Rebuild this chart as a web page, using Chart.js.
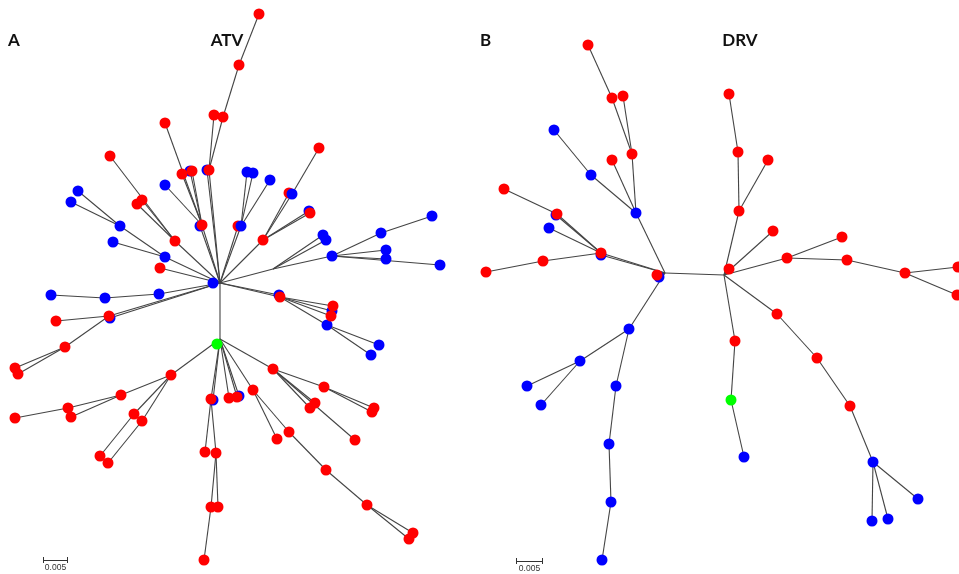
<!DOCTYPE html>
<html>
<head>
<meta charset="utf-8">
<script src="https://cdn.jsdelivr.net/npm/chart.js@4.4.0/dist/chart.umd.min.js"></script>
<style>
body{margin:0;background:#fff;}
#wrap{width:959px;height:574px;}
</style>
</head>
<body>
<div id="wrap"><canvas id="arvore" width="959" height="574"></canvas></div>
<script>
// Arvore A (ATV): posicao de cada no no layout, tipo e no pai
// tipo: 'r' vermelho, 'b' azul (por baixo), 'B' azul (por cima), 'g' verde, '' no interno
var atvX = [220,213,202,200,165,182,192,190,165,209,207,214,223,239,259,241,238,247,253,270,
            263,292,289,319,310,309,273,323,326,332,381,432,386,386,440,280,279,333,332,331,
            327,379,371,159,105,51,109,110,56,65,15,18,175,110,142,137,165,120,78,71,
            113,160,220,217,171,121,68,15,71,134,100,142,108,211,213,205,216,218,211,204,
            229,237,239,253,277,289,326,367,413,409,273,324,374,372,315,310,355]
var atvY = [283,283,225,226,123,174,171,171,185,170,170,115,117,65,14,226,226,172,173,180,
            240,194,193,148,213,211,269,235,240,256,233,216,250,259,265,297,295,306,311,316,
            325,345,355,294,298,295,316,318,321,347,368,374,241,156,200,204,257,226,191,202,
            242,268,339,344,375,395,408,418,417,414,456,421,463,399,400,452,453,507,507,560,
            398,397,396,390,439,432,470,505,533,539,369,387,408,412,403,408,440]
var atvTipo = ['','B','r','b','r','r','r','b','b','r','b','r','r','r','r','B','r','b','b','b',
               'r','B','r','r','r','b','','b','b','b','b','b','b','b','b','r','b','r','b','r',
               'b','b','b','b','b','b','r','b','r','r','r','r','r','r','r','r','b','b','b','b',
               'b','r','','g','r','r','r','r','r','r','r','r','r','r','b','r','r','r','r','r',
               'r','r','b','r','r','r','r','r','r','r','r','r','r','r','r','r','r']
var atvPai = [-1,0,0,0,2,2,2,2,2,0,0,9,9,12,13,0,0,15,15,15,
              0,20,20,21,20,20,0,26,26,26,29,30,29,29,29,0,0,35,35,35,
              35,40,40,0,43,44,0,0,46,46,49,49,0,52,52,52,0,56,57,57,
              56,0,0,62,62,64,65,66,65,64,69,64,71,62,62,73,73,76,76,78,
              62,62,62,62,83,83,85,86,87,87,62,90,91,91,90,90,90]

// Arvore B (DRV)
var drvX = [665,724,657,659,636,632,612,588,623,612,591,554,601,601,557,556,504,549,543,486,
            629,580,527,541,616,609,611,602,729,739,738,729,768,773,787,842,847,905,958,957,
            735,731,744,777,817,850,873,872,888,918]
var drvY = [273,275,275,277,213,154,98,45,96,160,175,130,253,255,214,215,189,228,261,272,
            329,361,386,405,386,444,502,560,269,211,152,94,160,231,258,237,260,273,267,295,
            341,400,457,314,358,406,462,521,519,499]
var drvTipo = ['','','r','b','b','r','r','r','r','r','b','b','r','b','r','b','r','b','r','r',
               'b','b','b','b','b','b','b','b','r','r','r','r','r','r','r','r','r','r','r','r',
               'r','g','b','r','r','r','b','b','b','b']
var drvPai = [-1,0,0,0,0,4,5,6,5,4,4,10,0,0,12,12,14,12,12,18,
              0,20,21,21,20,24,25,26,1,1,29,30,29,1,1,34,34,36,37,37,
              1,40,41,1,43,44,45,46,46,46]

var paineis = ['A','B']
var nomes = ['ATV','DRV']
var escala = '0.005'

var cores = {r:'#ff0000', b:'#0000ff', B:'#0000ff', g:'#00ff00'}
var ordem = {B:0, g:0, r:1, b:2}

var datasets = []
var pontos = {r:[], b:[], B:[], g:[]}

function montaArvore(xs, ys, tipos, pais) {
    for (var i = 0; i < xs.length; i++) {
        if (pais[i] >= 0) {
            datasets.push({
                data: [{x: xs[pais[i]], y: ys[pais[i]]}, {x: xs[i], y: ys[i]}],
                showLine: true,
                borderColor: '#444444',
                borderWidth: 1.1,
                pointRadius: 0,
                order: 3
            })
        }
        if (tipos[i]) pontos[tipos[i]].push({x: xs[i], y: ys[i]})
    }
}
montaArvore(atvX, atvY, atvTipo, atvPai)
montaArvore(drvX, drvY, drvTipo, drvPai)

for (var t in pontos) {
    datasets.push({
        data: pontos[t],
        showLine: false,
        pointRadius: 5.5,
        pointBackgroundColor: cores[t],
        pointBorderWidth: 0,
        order: ordem[t]
    })
}

// textos e barras de escala
var textos = {
    id: 'textos',
    afterDatasetsDraw: function(chart) {
        var c = chart.ctx
        var sx = chart.scales.x, sy = chart.scales.y
        c.save()
        c.fillStyle = '#111'
        c.font = 'bold 17px Lato'
        c.textBaseline = 'alphabetic'
        c.textAlign = 'left'
        c.fillText(paineis[0], sx.getPixelForValue(8), sy.getPixelForValue(46))
        c.fillText(paineis[1], sx.getPixelForValue(480), sy.getPixelForValue(46))
        c.textAlign = 'center'
        c.fillText(nomes[0], sx.getPixelForValue(227), sy.getPixelForValue(46))
        c.fillText(nomes[1], sx.getPixelForValue(740), sy.getPixelForValue(46))

        var barras = [[43, 68, 560], [516, 543, 561]]
        c.strokeStyle = '#333'
        c.lineWidth = 1
        c.font = '8.5px "Liberation Sans"'
        c.fillStyle = '#333'
        c.textBaseline = 'middle'
        barras.forEach(function(b) {
            var x1 = sx.getPixelForValue(b[0]), x2 = sx.getPixelForValue(b[1]), y = sy.getPixelForValue(b[2])
            c.beginPath()
            c.moveTo(x1, y + 0.5); c.lineTo(x2, y + 0.5)
            c.moveTo(x1 + 0.5, y - 3); c.lineTo(x1 + 0.5, y + 3)
            c.moveTo(x2 - 0.5, y - 3); c.lineTo(x2 - 0.5, y + 3)
            c.stroke()
            c.fillText(escala, (x1 + x2) / 2, y + 8)
        })
        c.restore()
    }
}

var ctx = document.getElementById('arvore').getContext('2d')
var arvore = new Chart(ctx, {
    type: 'scatter',
    data: { datasets: datasets },
    options: {
        responsive: false,
        animation: false,
        events: [],
        layout: { padding: 0, autoPadding: false },
        scales: {
            x: { type: 'linear', min: 0, max: 959, display: false },
            y: { type: 'linear', min: 0, max: 574, reverse: true, display: false }
        },
        plugins: {
            legend: { display: false },
            tooltip: { enabled: false }
        }
    },
    plugins: [textos]
})
</script>
</body>
</html>
